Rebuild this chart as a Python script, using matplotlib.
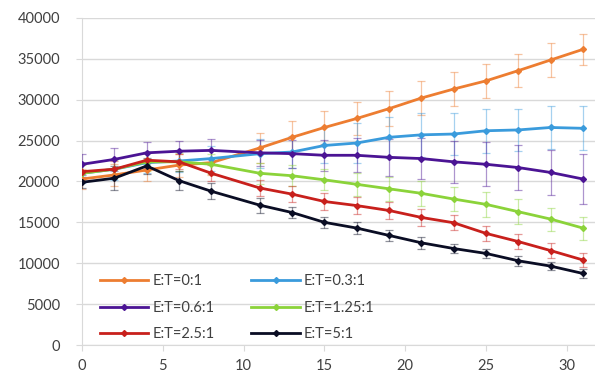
import matplotlib
matplotlib.use("Agg")
import matplotlib.pyplot as plt
from matplotlib.lines import Line2D

plt.rcParams['font.family'] = ['Lato', 'DejaVu Sans']

# time points
days = [0, 2, 4, 6, 8, 11, 13, 15, 17, 19, 21, 23, 25, 27, 29, 31]

labels = ['E:T=0:1', 'E:T=0.3:1', 'E:T=0.6:1', 'E:T=1.25:1', 'E:T=2.5:1', 'E:T=5:1']
colors = ['#ED7D31', '#3A9BDC', '#4B1494', '#8BD33A', '#C8201C', '#0A0D24']

et_0 = [20300, 20800, 21400, 22000, 22300, 24100, 25400, 26600, 27700, 28900,
        30200, 31300, 32300, 33550, 34850, 36150]
et_03 = [21000, 21500, 22300, 22500, 22800, 23400, 23600, 24400, 24700, 25400,
         25700, 25800, 26200, 26300, 26600, 26500]
et_06 = [22100, 22700, 23500, 23700, 23800, 23500, 23400, 23200, 23200, 22950,
         22800, 22400, 22100, 21700, 21100, 20300]
et_125 = [21000, 21500, 22400, 22400, 22100, 21000, 20700, 20200, 19650, 19100,
          18550, 17850, 17200, 16300, 15400, 14300]
et_25 = [21200, 21500, 22600, 22400, 21000, 19200, 18450, 17550, 17050, 16450,
         15600, 14950, 13650, 12650, 11550, 10400]
et_5 = [19900, 20400, 21900, 20100, 18800, 17100, 16200, 15000, 14300, 13400,
        12500, 11800, 11200, 10300, 9650, 8750]

err_0 = [1200, 1300, 1300, 1400, 1500, 1800, 2000, 2000, 2000, 2100,
         2100, 2100, 2100, 2050, 2050, 1900]
err_03 = [1200, 1300, 1300, 1400, 1500, 1800, 2000, 2200, 2400, 2500,
          2650, 2600, 2700, 2600, 2600, 2700]
err_06 = [1300, 1400, 1300, 1300, 1400, 1600, 1700, 1900, 2100, 2300,
          2500, 2600, 2700, 2700, 2800, 3000]
err_125 = [1000, 1100, 1100, 1100, 1200, 1300, 1300, 1300, 1400, 1500,
           1500, 1500, 1500, 1500, 1400, 1400]
err_25 = [900, 1000, 1000, 900, 1000, 1000, 1000, 1000, 1000, 1000,
          1000, 900, 900, 900, 900, 900]
err_5 = [700, 1500, 1000, 1200, 1000, 900, 700, 700, 700, 700,
         700, 600, 600, 600, 500, 500]

series = [et_0, et_03, et_06, et_125, et_25, et_5]
errors = [err_0, err_03, err_06, err_125, err_25, err_5]

fig = plt.figure(figsize=(5.95, 3.76), dpi=100)
ax = fig.add_axes([0.138, 0.0824, 0.862, 0.87])

handles = []
for vals, errs, col, lab in zip(series, errors, colors, labels):
    cont = ax.errorbar(days, vals, yerr=errs, color=col, lw=2.0, marker='D',
                       markersize=3, ecolor=col, elinewidth=0.9, capsize=3,
                       capthick=0.9, zorder=3)
    # lighten the error bars a bit
    for c in cont.lines[1] + cont.lines[2]:
        c.set_alpha(0.45)
    handles.append(Line2D([], [], color=col, lw=2.0, marker='D', markersize=3,
                          label=lab))

ax.set_xlim(0, 31.75)
ax.set_ylim(0, 40000)
ax.set_xticks([0, 5, 10, 15, 20, 25, 30])
ax.set_yticks(range(0, 40001, 5000))
ax.grid(axis='y', color='#d9d9d9', lw=1)
ax.set_axisbelow(True)
for s in ['top', 'right']:
    ax.spines[s].set_visible(False)
ax.spines['left'].set_color('#d9d9d9')
ax.spines['bottom'].set_color('#d9d9d9')
ax.tick_params(axis='both', colors='#d9d9d9', labelcolor='#404040',
               labelsize=10.5, length=4)
ax.tick_params(axis='y', pad=12)
ax.tick_params(axis='x', pad=6)

# legend is filled row by row in the reference: reorder for column-major fill
order = [0, 2, 4, 1, 3, 5]
ax.legend([handles[i] for i in order], [labels[i] for i in order],
          ncol=2, loc='lower left', bbox_to_anchor=(0.01, -0.028), frameon=False,
          fontsize=10.5, handlelength=3.3, handletextpad=0.3, columnspacing=2.5,
          labelspacing=0.85, labelcolor='#404040')

fig.savefig('out.png', dpi=100)
